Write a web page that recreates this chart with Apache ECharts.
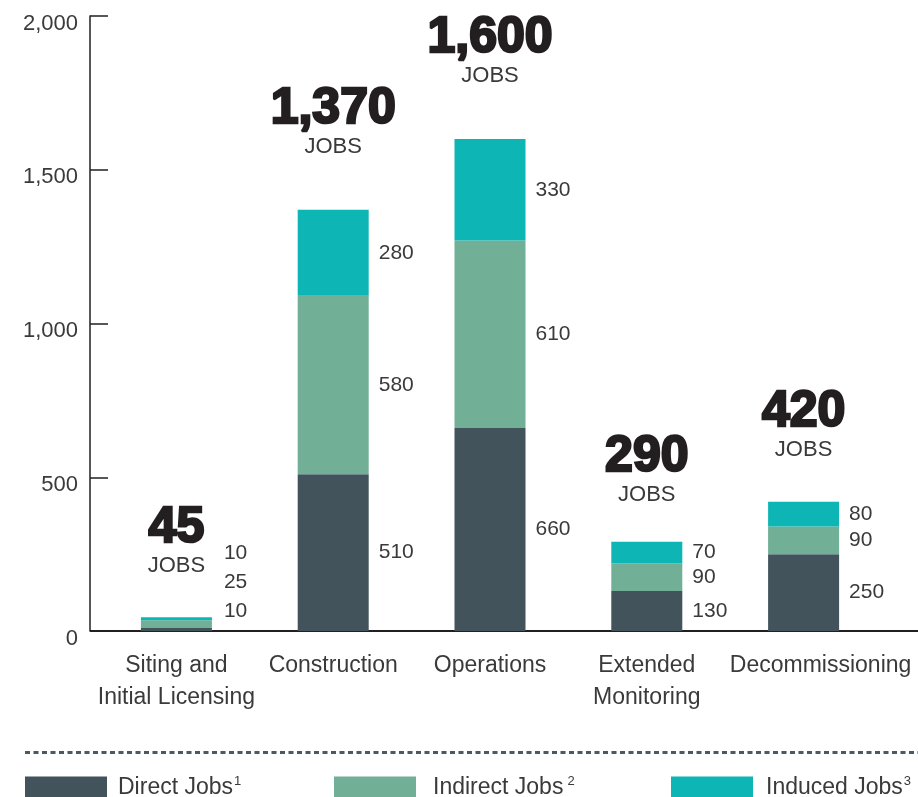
<!DOCTYPE html>
<html>
<head>
<meta charset="utf-8">
<script src="https://cdn.jsdelivr.net/npm/echarts@6/dist/echarts.min.js"></script>
<style>
  html, body { margin: 0; padding: 0; background: #fff; }
  #chart { width: 918px; height: 797px; }
</style>
</head>
<body>
<div id="chart"></div>
<script>
// data
const stages = ['Siting and\nInitial Licensing', 'Construction', 'Operations', 'Extended\nMonitoring', 'Decommissioning'];
const directJobs = [10, 510, 660, 130, 250];
const indirectJobs = [25, 580, 610, 90, 90];
const inducedJobs = [10, 280, 330, 70, 80];
const totalJobs = ['45', '1,370', '1,600', '290', '420'];
const yTicks = [0, 500, 1000, 1500, 2000];

// series names + footnote marks
const seriesNames = ['Direct Jobs', 'Indirect Jobs', 'Induced Jobs'];
const footnotes = ['1', '2', '3'];

// look
const FONT = 'Liberation Sans';
const TEXT = '#3a3a3a';
const colors = ['#42535c', '#71b096', '#0db5b4'];
// tiny first bar: its labels are pushed upward so they don't overlap
const firstBarShift = [-18, -42, -65];
// gap between bar top and the total label
const totalGap = [38, 50, 50, 34, 39];
// legend placement (left edge, gap before text, superscript gap)
const legendLeft = [25, 334, 671];
const legendTextPad = [6, 12, 8];
const supPad = [1, 4, 1];

const chart = echarts.init(document.getElementById('chart'));

const segLabel = {
  show: true,
  position: 'right',
  distance: 10,
  color: TEXT,
  fontFamily: FONT,
  fontSize: 21,
  formatter: p => p.value
};

function buildData(values, k) {
  return values.map((v, i) => {
    const item = { value: v };
    if (i === 0) item.label = { offset: [2, firstBarShift[k]] };
    return item;
  });
}

const series = [directJobs, indirectJobs, inducedJobs].map((vals, k) => ({
  name: seriesNames[k],
  type: 'bar',
  stack: 'jobs',
  barWidth: 71,
  itemStyle: { color: colors[k] },
  label: segLabel,
  data: buildData(vals, k)
}));

// totals sit above the stack, drawn as a transparent bar of the summed height
series.push({
  name: 'total',
  type: 'bar',
  barWidth: 71,
  barGap: '-100%',
  itemStyle: { color: 'rgba(0,0,0,0)' },
  silent: true,
  z: 0,
  data: directJobs.map((d, i) => ({
    value: d + indirectJobs[i] + inducedJobs[i],
    label: { distance: totalGap[i] }
  })),
  label: {
    show: true,
    position: 'top',
    formatter: p => '{big|' + totalJobs[p.dataIndex] + '}\n{small|JOBS}',
    rich: {
      big: {
        fontFamily: FONT, fontSize: 50, fontWeight: 'bold', color: '#231f20',
        textBorderColor: '#231f20', textBorderWidth: 2.5, lineHeight: 50, align: 'center'
      },
      small: { fontFamily: FONT, fontSize: 22, color: TEXT, lineHeight: 26, align: 'center' }
    }
  }
});

function legendAt(k) {
  return {
    data: [seriesNames[k]],
    left: legendLeft[k],
    top: 775,
    padding: 0,
    itemWidth: 82,
    itemHeight: 22,
    icon: 'rect',
    selectedMode: false,
    formatter: name => name + '{sup|' + footnotes[k] + '}',
    textStyle: {
      fontFamily: FONT, fontSize: 23, color: TEXT, padding: [0, 0, 0, legendTextPad[k]],
      rich: { sup: { fontFamily: FONT, fontSize: 13, color: TEXT, padding: [0, 0, 12, supPad[k]] } }
    }
  };
}

const option = {
  animation: false,
  grid: { left: 98, right: 36, top: 16, bottom: 166 },
  legend: [legendAt(0), legendAt(1), legendAt(2)],
  xAxis: {
    type: 'category',
    data: stages,
    axisLine: { show: false },
    axisTick: { show: false },
    axisLabel: {
      color: TEXT, fontFamily: FONT, fontSize: 23, lineHeight: 32, margin: 19, interval: 0,
      // the last label sits a bit right of its bar in the original
      formatter: (v, i) => i === stages.length - 1 ? '{shift|' + v + '}' : v,
      rich: { shift: { fontFamily: FONT, fontSize: 23, color: TEXT, padding: [0, 0, 0, 34] } }
    }
  },
  yAxis: {
    type: 'value',
    min: yTicks[0],
    max: yTicks[yTicks.length - 1],
    interval: 500,
    offset: 8,
    axisLine: { show: true, lineStyle: { color: '#231f20', width: 1.5 } },
    axisTick: { show: true, inside: true, length: 18, lineStyle: { color: '#231f20', width: 1.5 } },
    splitLine: { show: false },
    axisLabel: {
      color: TEXT, fontFamily: FONT, fontSize: 22, margin: 12,
      verticalAlign: 'top', lineHeight: 15,
      formatter: v => v.toLocaleString('en-US')
    }
  },
  series: series
};

chart.setOption(option);

// baseline runs past the grid to the right edge, and the dotted rule above the legend
const y0 = chart.convertToPixel({ yAxisIndex: 0 }, 0);
chart.setOption({
  graphic: [
    {
      type: 'line',
      shape: { x1: 90, y1: y0, x2: 918, y2: y0 },
      style: { stroke: '#231f20', lineWidth: 2 }
    },
    {
      type: 'line',
      shape: { x1: 25, y1: 752.5, x2: 918, y2: 752.5 },
      style: { stroke: '#4b5962', lineWidth: 3, lineDash: [5, 3.5] }
    }
  ]
});
</script>
</body>
</html>
